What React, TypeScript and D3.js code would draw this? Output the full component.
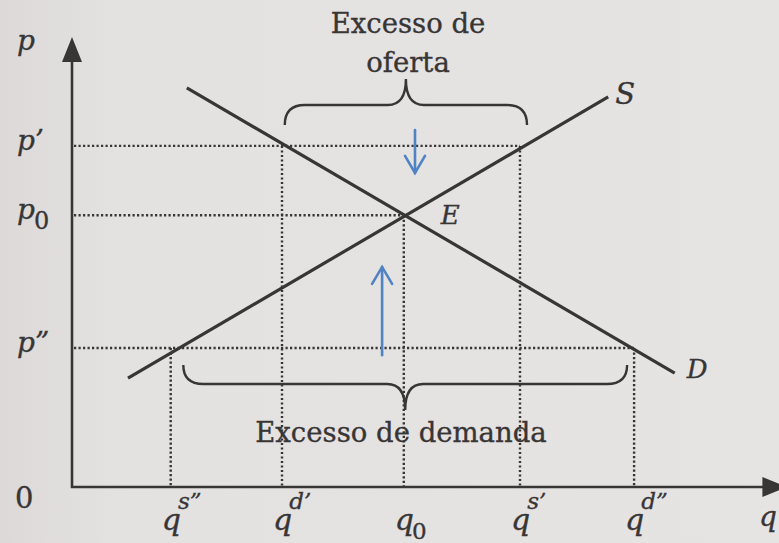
import React from "react";
import * as d3 from "d3";

// ---- data (model units: quantity q 0..102, price p 0..100) ----
const supplyLine = [
  { q: 8.0, p: 24.2 },
  { q: 76.6, p: 86.7 },
];
const demandLine = [
  { q: 16.4, p: 88.7 },
  { q: 86.1, p: 25.3 },
];
const equilibrium = { q: 47.4, p: 60.4 };
const priceHigh = 75.8; // p'
const priceLow = 30.9; // p''
const qDemandHigh = 30.0; // qd'
const qSupplyHigh = 64.0; // qs'
const qSupplyLow = 14.1; // qs''
const qDemandLow = 80.3; // qd''

const priceLabels = [
  { base: "p", sub: "", p: 100 },
  { base: "p’", sub: "", p: priceHigh },
  { base: "p", sub: "0", p: equilibrium.p },
  { base: "p”", sub: "", p: priceLow },
];
const quantityLabels = [
  { base: "q", sup: "s”", sub: "", q: qSupplyLow },
  { base: "q", sup: "d’", sub: "", q: qDemandHigh },
  { base: "q", sup: "", sub: "0", q: equilibrium.q },
  { base: "q", sup: "s’", sub: "", q: qSupplyHigh },
  { base: "q", sup: "d”", sub: "", q: qDemandLow },
];
const excessSupplyBrace = { q1: 30.4, q2: 65.0 };
const excessDemandBrace = { q1: 15.9, q2: 79.3 };
const arrowDown = { q: 49.0, p1: 79.3, p2: 69.8 };
const arrowUp = { q: 44.3, p1: 29.3, p2: 48.9 };
const axisMax = { q: 102.2, p: 100 };

const W = 779;
const H = 543;
const x = d3.scaleLinear().domain([0, 100]).range([72, 772]);
const y = d3.scaleLinear().domain([0, 100]).range([487, 37]);

const INK = "#383535";
const BLUE = "#4f83c4";
const SERIF = "'DejaVu Serif', serif";

function brace(x1: number, x2: number, yEnd: number, yMid: number, yTip: number) {
  const c = (x1 + x2) / 2;
  const p = d3.path();
  p.moveTo(x1, yEnd);
  p.quadraticCurveTo(x1, yMid, x1 + 20, yMid);
  p.lineTo(c - 18, yMid);
  p.quadraticCurveTo(c, yMid, c, yTip);
  p.quadraticCurveTo(c, yMid, c + 18, yMid);
  p.lineTo(x2 - 20, yMid);
  p.quadraticCurveTo(x2, yMid, x2, yEnd);
  return p.toString();
}

export default function App() {
  const line = d3
    .line<{ q: number; p: number }>()
    .x((d) => x(d.q))
    .y((d) => y(d.p));

  const dotted = {
    stroke: INK,
    strokeWidth: 2.4,
    strokeDasharray: "2.2 2.3",
    fill: "none",
  } as const;

  const hLines = [
    { p: priceHigh, q: qSupplyHigh },
    { p: equilibrium.p, q: equilibrium.q },
    { p: priceLow, q: qDemandLow },
  ];
  const vLines = [
    { q: qSupplyLow, p: priceLow },
    { q: qDemandHigh, p: priceHigh },
    { q: equilibrium.q, p: equilibrium.p },
    { q: qSupplyHigh, p: priceHigh },
    { q: qDemandLow, p: priceLow },
  ];

  return (
    <svg
      width={W}
      height={H}
      style={{ position: "absolute", left: 0, top: 0, display: "block" }}
    >
      <defs>
        <linearGradient id="paper" x1="0" x2="1" y1="0" y2="0">
          <stop offset="0" stopColor="#dcd9d8" />
          <stop offset="0.15" stopColor="#e4e1e1" />
          <stop offset="1" stopColor="#e6e3e3" />
        </linearGradient>
      </defs>
      <rect width={W} height={H} fill="url(#paper)" />

      {/* dotted guide lines */}
      {hLines.map((l, i) => (
        <line key={"h" + i} x1={x(0) + 2} x2={x(l.q)} y1={y(l.p)} y2={y(l.p)} {...dotted} />
      ))}
      {vLines.map((l, i) => (
        <line key={"v" + i} x1={x(l.q)} x2={x(l.q)} y1={y(l.p)} y2={y(0)} {...dotted} />
      ))}

      {/* axes */}
      <line x1={x(0)} x2={x(0)} y1={y(0) + 1} y2={y(axisMax.p) + 20} stroke={INK} strokeWidth={2.6} />
      <path
        d={`M${x(0)},${y(axisMax.p)} L${x(0) - 10},${y(axisMax.p) + 25} L${x(0) + 10},${y(axisMax.p) + 25} Z`}
        fill={INK}
      />
      <line x1={x(0) - 1} x2={x(axisMax.q) - 20} y1={y(0)} y2={y(0)} stroke={INK} strokeWidth={2.6} />
      <path
        d={`M${x(axisMax.q)},${y(0)} L${x(axisMax.q) - 25},${y(0) - 10} L${x(axisMax.q) - 25},${y(0) + 10} Z`}
        fill={INK}
      />

      {/* supply & demand */}
      <path d={line(supplyLine) || ""} stroke={INK} strokeWidth={3.2} fill="none" />
      <path d={line(demandLine) || ""} stroke={INK} strokeWidth={3.2} fill="none" />

      {/* braces */}
      <path
        d={brace(x(excessSupplyBrace.q1), x(excessSupplyBrace.q2), 125, 105, 79)}
        stroke={INK}
        strokeWidth={2.4}
        fill="none"
      />
      <path
        d={brace(x(excessDemandBrace.q1), x(excessDemandBrace.q2), 365, 384, 410)}
        stroke={INK}
        strokeWidth={2.4}
        fill="none"
      />

      {/* blue arrows */}
      {[arrowDown, arrowUp].map((a, i) => {
        const ax = x(a.q);
        const y1 = y(a.p1);
        const y2 = y(a.p2);
        const dir = y2 > y1 ? 1 : -1;
        return (
          <g key={"a" + i} stroke={BLUE} strokeWidth={2.6} fill="none" strokeLinecap="round">
            <line x1={ax} x2={ax} y1={y1} y2={y2} />
            <polyline points={`${ax - 10},${y2 - dir * 17} ${ax},${y2} ${ax + 10},${y2 - dir * 17}`} strokeLinejoin="miter" />
          </g>
        );
      })}

      {/* texts */}
      <g fontFamily={SERIF} fill={INK} stroke={INK} strokeWidth={0.35}>
        <text x={408} y={33} fontSize={27.5} textAnchor="middle">Excesso de</text>
        <text x={408} y={72} fontSize={27.5} textAnchor="middle">oferta</text>
        <text x={401} y={442} fontSize={27.5} textAnchor="middle">Excesso de demanda</text>

        <text x={x(supplyLine[1].q) + 7} y={104} fontSize={29} fontStyle="italic">S</text>
        <text x={x(demandLine[1].q) + 12} y={378} fontSize={26} fontStyle="italic">D</text>
        <text x={x(equilibrium.q) + 37} y={224} fontSize={26} fontStyle="italic">E</text>

        {priceLabels.map((l, i) => (
          <text key={"pl" + i} x={17} y={y(l.p) + (i === 0 ? 13 : 4)} fontSize={28} fontStyle="italic">
            {l.base}
            {l.sub && (
              <tspan fontStyle="normal" fontSize={24} dx={-1} dy={10}>{l.sub}</tspan>
            )}
          </text>
        ))}
        <text x={15} y={508} fontSize={29}>0</text>

        {quantityLabels.map((l, i) => (
          <text key={"ql" + i} x={x(l.q) - 9} y={530} fontSize={30} fontStyle="italic">
            {l.base}
            {l.sup && (
              <tspan fontSize={23} dx={-3} dy={-21}>{l.sup}</tspan>
            )}
            {l.sub && (
              <tspan fontStyle="normal" fontSize={23} dx={-2} dy={9}>{l.sub}</tspan>
            )}
          </text>
        ))}
        <text x={759} y={526} fontSize={28} fontStyle="italic">q</text>
      </g>
    </svg>
  );
}
